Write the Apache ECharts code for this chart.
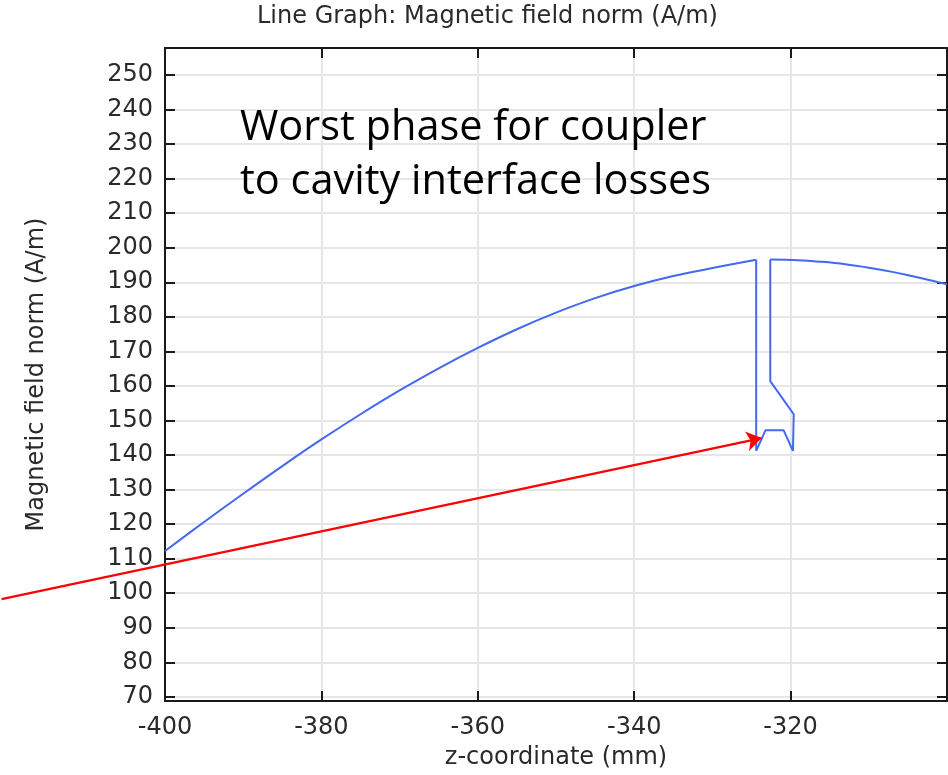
<!DOCTYPE html>
<html><head><meta charset="utf-8">
<script src="https://cdn.jsdelivr.net/npm/echarts@6/dist/echarts.min.js"></script>
<style>html,body{margin:0;padding:0;background:#fff}#c{width:948px;height:775px}</style>
</head><body><div id="c"></div>
<script>
const titleText = 'Line Graph: Magnetic field norm (A/m)';
const xName = 'z-coordinate (mm)';
const yName = 'Magnetic field norm (A/m)';
const noteLines = ['Worst phase for coupler', 'to cavity interface losses'];

const xTicks = [-400, -380, -360, -340, -320];
const yTicks = [70, 80, 90, 100, 110, 120, 130, 140, 150, 160, 170, 180, 190, 200, 210, 220, 230, 240, 250];

// cavity-side field curve
const leftX = [-400, -395, -390, -385, -380, -375, -370, -365, -360, -355, -350, -345, -340, -335, -330, -324.4];
const leftY = [112.2, 120.6, 128.8, 136.8, 144.5, 151.8, 158.7, 165.1, 171.0, 176.4, 181.2, 185.4, 188.9, 191.8, 194.1, 196.5];

// coupler interface feature
const featX = [-324.4, -324.4, -323.2, -320.9, -319.7, -319.6, -322.6, -322.6];
const featY = [196.5, 141.2, 147.2, 147.2, 141.2, 151.8, 161.4, 196.6];

// field curve after the interface
const rightX = [-322.6, -319, -316, -313, -310, -307, -304.5, -302, -300];
const rightY = [196.6, 196.4, 195.9, 195.2, 194.2, 193.0, 191.8, 190.5, 189.4];

// annotation arrow (data coordinates)
const arrowX = [-420.9, -323.7];
const arrowY = [98.3, 144.9];

const zip = (a, b) => a.map((v, i) => [v, b[i]]);
const BLUE = '#4468f0';
const AXIS = '#1a1a1a';
const TXT = '#2a2a2a';
const FONT = 'DejaVu Sans';
const FS = 24;

const chart = echarts.init(document.getElementById('c'), null, {renderer: 'canvas'});
const yMin = 68.8, yMax = 257.8;

const option = {
  animation: false,
  backgroundColor: '#ffffff',
  title: {
    text: titleText, left: 257, top: 5, padding: 0,
    textStyle: {fontFamily: FONT, fontSize: FS, fontWeight: 'normal', color: TXT}
  },
  graphic: [
    {type: 'text', left: 240, top: 107, z: 10, style: {text: noteLines[0], font: '41.5px "Open Sans"', fill: '#000'}},
    {type: 'text', left: 240, top: 161, z: 10, style: {text: noteLines[1], font: '41.5px "Open Sans"', fill: '#000'}}
  ],
  grid: {left: 165, right: 1, top: 48, bottom: 73, containLabel: false},
  xAxis: [{
    type: 'value', min: -400, max: -300, interval: 20, position: 'bottom',
    axisLine: {show: true, onZero: false, lineStyle: {color: AXIS, width: 2}},
    axisTick: {show: true, inside: true, length: 10, lineStyle: {color: AXIS, width: 2}},
    axisLabel: {customValues: xTicks, fontFamily: FONT, fontSize: FS, color: TXT, margin: 15},
    splitLine: {show: true, lineStyle: {color: '#e6e6e6', width: 2}},
    name: xName, nameLocation: 'middle', nameGap: 45,
    nameTextStyle: {fontFamily: FONT, fontSize: FS, color: TXT}
  }, {
    type: 'value', min: -400, max: -300, interval: 20, position: 'top',
    axisLine: {show: true, onZero: false, lineStyle: {color: AXIS, width: 2}},
    axisTick: {show: true, inside: true, length: 10, lineStyle: {color: AXIS, width: 2}},
    axisLabel: {show: false}, splitLine: {show: false}
  }],
  yAxis: [{
    type: 'value', min: yMin, max: yMax, position: 'left',
    axisLine: {show: true, onZero: false, lineStyle: {color: AXIS, width: 2}},
    axisTick: {show: true, inside: true, length: 10, customValues: yTicks, lineStyle: {color: AXIS, width: 2}},
    axisLabel: {customValues: yTicks, fontFamily: FONT, fontSize: FS, color: TXT, margin: 12},
    splitLine: {show: true, lineStyle: {color: '#e6e6e6', width: 2}},
    name: yName, nameLocation: 'middle', nameGap: 116, nameRotate: 90,
    nameTextStyle: {fontFamily: FONT, fontSize: FS, color: TXT}
  }, {
    type: 'value', min: yMin, max: yMax, position: 'right',
    axisLine: {show: true, onZero: false, lineStyle: {color: AXIS, width: 2}},
    axisTick: {show: true, inside: true, length: 10, customValues: yTicks, lineStyle: {color: AXIS, width: 2}},
    axisLabel: {show: false}, splitLine: {show: false}
  }],
  series: [
    {type: 'line', data: zip(leftX, leftY), smooth: 0.4, showSymbol: false, symbol: 'none',
     lineStyle: {color: BLUE, width: 2}, z: 3},
    {type: 'line', data: zip(featX, featY), smooth: false, showSymbol: false, symbol: 'none',
     lineStyle: {color: BLUE, width: 2}, z: 3},
    {type: 'line', data: zip(rightX, rightY), smooth: 0.4, showSymbol: false, symbol: 'none',
     lineStyle: {color: BLUE, width: 2}, z: 3},
    {type: 'lines', coordinateSystem: 'cartesian2d', clip: false, silent: true, z: 5,
     symbol: ['none', 'arrow'], symbolSize: [0, 15],
     lineStyle: {color: '#ff0000', width: 2.2, opacity: 1},
     data: [{coords: zip(arrowX, arrowY)}]}
  ]
};
chart.setOption(option);
</script></body></html>
